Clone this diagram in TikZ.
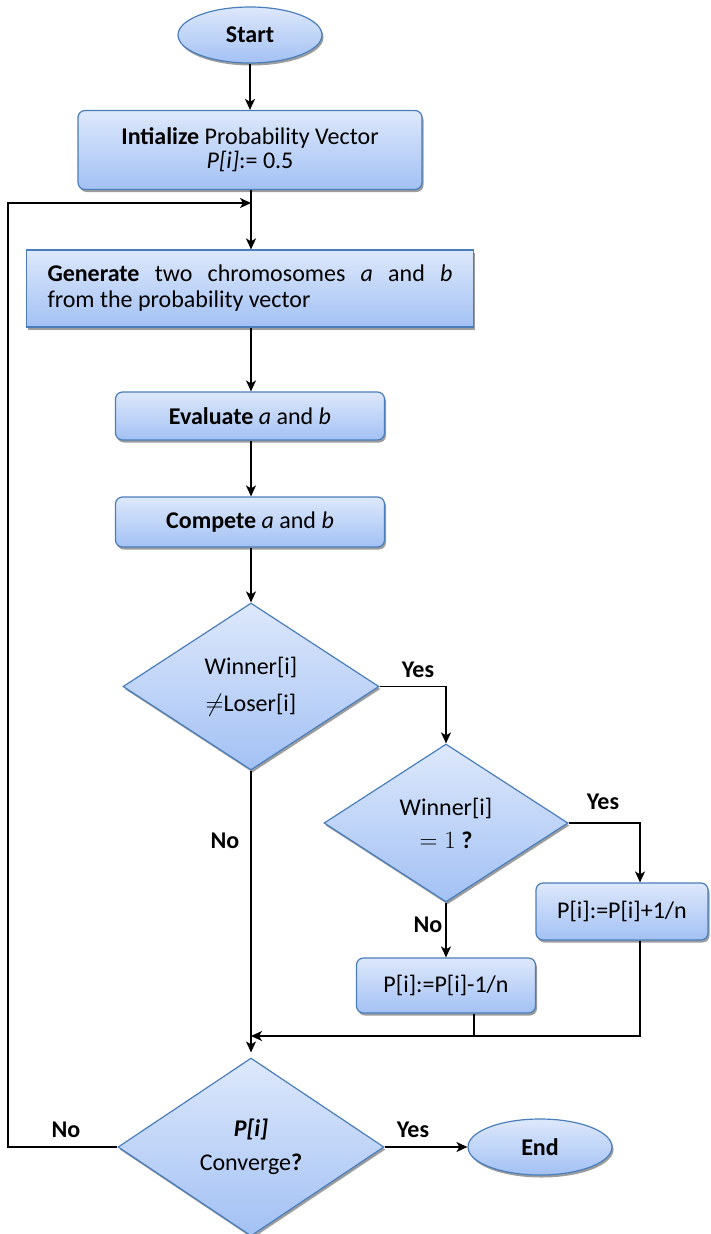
\documentclass[tikz,border=0pt]{standalone}
\usepackage{fontspec}
\setmainfont{Carlito}
\usetikzlibrary{shapes.geometric,shadows,arrows.meta}
\definecolor{bord}{HTML}{4A7EBB}
\definecolor{ftop}{HTML}{DDE8FB}
\definecolor{fbot}{HTML}{A3C1F4}
\begin{document}
\begin{tikzpicture}[x=1pt,y=-1pt,
  font=\fontsize{24}{25}\selectfont,
  shade/.style={draw=bord, line width=1.2pt, top color=ftop, bottom color=fbot,
    drop shadow={shadow xshift=1.5pt, shadow yshift=-2.5pt, fill=black!55, opacity=.7}},
  procbox/.style={shade, rectangle, rounded corners=7pt, inner sep=0pt, align=center},
  decis/.style={shade, diamond, inner sep=0pt, align=center},
  term/.style={shade, ellipse, inner sep=0pt, minimum width=144pt, minimum height=56pt},
  conn/.style={line width=1.5pt, -{Stealth[length=11pt,width=10pt,inset=3pt]}},
  plain/.style={line width=1.5pt},
  lbl/.style={font=\fontsize{24}{25}\selectfont\bfseries, inner sep=0pt}]
\useasboundingbox (0,0) rectangle (710,1234);

% nodes
\node[term] (start) at (250,35) {\textbf{Start}};
\node[procbox, minimum width=344pt, minimum height=79pt] (init) at (250,150)
  {\textbf{Intialize} Probability Vector\\[-1pt]\textit{P[i]}:= 0.5};
\node[procbox, rounded corners=0pt, minimum width=447pt, minimum height=77pt, align=left] (gen) at (250,288.5)
  {\makebox[405pt][s]{\textbf{Generate} two chromosomes \textit{a} and \textit{b}}\\[1pt]from the probability vector};
\node[procbox, minimum width=269pt, minimum height=48pt] (eval) at (250,416)
  {\textbf{Evaluate} \textit{a} and \textit{b}};
\node[procbox, minimum width=269pt, minimum height=50pt] (comp) at (250,522)
  {\textbf{Compete} \textit{a} and \textit{b}};
\node[decis, minimum width=256pt, minimum height=167pt] (d1) at (251,686.5)
  {Winner[i]\\[12pt]$\neq$Loser[i]};
\node[decis, minimum width=244pt, minimum height=158pt] (d2) at (446,823)
  {Winner[i]\\[8pt]$=1$ \textbf{?}};
\node[procbox, minimum width=172pt, minimum height=57pt] (pplus) at (622,911.5)
  {P[i]:=P[i]+1/n};
\node[procbox, minimum width=179pt, minimum height=55pt] (pminus) at (446,985.5)
  {P[i]:=P[i]-1/n};
\node[decis, minimum width=266pt, minimum height=178pt] (d3) at (251,1147)
  {\textbf{\textit{P[i]}}\\[9pt]Converge\textbf{?}};
\node[term] (end) at (540,1147) {\textbf{End}};

% helper coordinates
\coordinate (j1) at (251,203);
\coordinate (j2) at (251,1036);
\coordinate (lx) at (474,0);
\coordinate (rx) at (640,0);
\coordinate (lp) at (8,0);

% connectors
\draw[conn] (start) -- (start |- init.north);
\draw[conn] (init.south -| j1) -- (j1 |- gen.north);
\draw[conn] (d3.west) -- (lp |- d3.west) -- (lp |- j1) -- (j1);
\draw[conn] (gen.south -| j1) -- (j1 |- eval.north);
\draw[conn] (eval.south -| j1) -- (j1 |- comp.north);
\draw[conn] (comp.south -| d1) -- (d1.north);
\draw[conn] (d1.east) -| (d2.north);
\draw[conn] (d2.east) -| (rx |- pplus.north);
\draw[conn] (d2.south) -- (pminus.north);
\draw[conn, shorten >=5pt] (d1.south) -- (d3.north);
\draw[plain] (lx |- pminus.south) -- (lx |- j2);
\draw[conn] (rx |- pplus.south) -- (rx |- j2) -- (j2);
\draw[conn] (d3.east) -- (end.west);

% labels
\node[lbl] (y1) at (418,670) {Yes};
\node[lbl] (y2) at (603,802) {Yes};
\node[lbl] (n2) at (428,925) {No};
\node[lbl] (n1) at (225,841) {No};
\node[lbl] (n3) at (66,1130) {No};
\node[lbl] (y3) at (413,1130) {Yes};
\end{tikzpicture}
\end{document}
